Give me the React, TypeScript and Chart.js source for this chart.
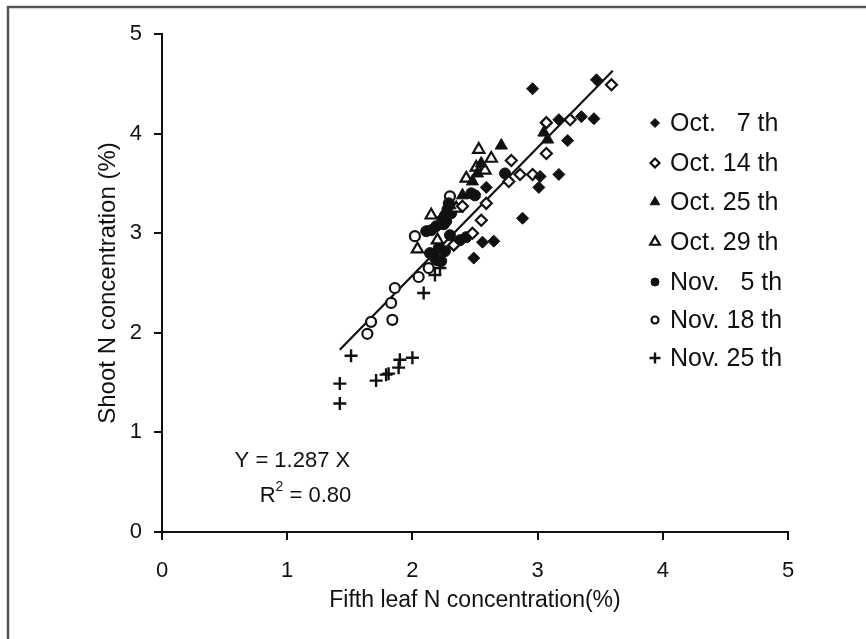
import React, { useEffect, useRef } from "react";
import { Chart, registerables } from "chart.js";
import { drawPoint } from "chart.js/helpers";

Chart.register(...registerables);

const seriesLabels = ["Oct.   7 th", "Oct. 14 th", "Oct. 25 th", "Oct. 29 th", "Nov.   5 th", "Nov. 18 th", "Nov. 25 th"];

const oct7X = [2.96, 3.47, 3.17, 3.35, 3.45, 3.24, 3.02, 3.17, 3.01, 2.59, 2.88, 2.56, 2.65, 2.49];
const oct7Y = [4.45, 4.54, 4.14, 4.17, 4.15, 3.93, 3.57, 3.59, 3.46, 3.46, 3.15, 2.91, 2.92, 2.75];

const oct14X = [3.59, 3.07, 3.26, 3.07, 2.79, 2.86, 2.96, 2.77, 2.59, 2.55, 2.48, 2.4, 2.33];
const oct14Y = [4.49, 4.11, 4.14, 3.8, 3.73, 3.59, 3.59, 3.52, 3.3, 3.13, 3.0, 3.27, 2.88];

const oct25X = [3.05, 3.08, 2.71, 2.55, 2.48, 2.4, 2.3, 2.27, 2.52, 2.25];
const oct25Y = [4.01, 3.94, 3.88, 3.7, 3.52, 3.38, 3.28, 3.2, 3.6, 3.14];

const oct29X = [2.53, 2.63, 2.51, 2.58, 2.43, 2.15, 2.04, 2.35, 2.2];
const oct29Y = [3.84, 3.75, 3.66, 3.63, 3.55, 3.18, 2.84, 3.25, 2.93];

const nov5X = [2.74, 2.5, 2.29, 2.31, 2.27, 2.25, 2.19, 2.11, 2.15, 2.38, 2.43, 2.3, 2.21, 2.18, 2.23, 2.14, 2.47, 2.28, 2.26, 2.32, 2.24, 2.26];
const nov5Y = [3.6, 3.38, 3.3, 3.2, 3.12, 3.09, 3.07, 3.02, 3.03, 2.93, 2.96, 2.98, 2.85, 2.75, 2.72, 2.8, 3.4, 3.24, 3.18, 3.26, 3.14, 2.82];

const nov18X = [2.3, 2.02, 2.05, 2.13, 1.86, 1.83, 1.84, 1.67, 1.64, 2.2];
const nov18Y = [3.37, 2.97, 2.56, 2.65, 2.45, 2.3, 2.13, 2.11, 1.99, 2.73];

const nov25X = [2.18, 2.09, 1.51, 1.42, 1.42, 1.71, 1.79, 1.81, 1.89, 1.9, 2.0, 2.22];
const nov25Y = [2.58, 2.4, 1.77, 1.49, 1.29, 1.52, 1.58, 1.59, 1.65, 1.73, 1.75, 2.65];

const fitX = [1.42, 3.6];
const fitY = [1.83, 4.63];

const xTicks = [0, 1, 2, 3, 4, 5];
const yTicks = [0, 1, 2, 3, 4, 5];

const INK = "#111111";
const FONT = "'Liberation Sans', Arial, sans-serif";

const pts = (xs: number[], ys: number[]) => xs.map((x, i) => ({ x, y: ys[i] }));

const styles = [
  { pointStyle: "rectRot", radius: 6, fill: INK, bw: 1, lr: 4.5 },
  { pointStyle: "rectRot", radius: 5.5, fill: "#ffffff", bw: 2.2, lr: 4.5 },
  { pointStyle: "triangle", radius: 7, fill: INK, bw: 1, lr: 5.5 },
  { pointStyle: "triangle", radius: 6.5, fill: "#ffffff", bw: 2.2, lr: 5.5 },
  { pointStyle: "circle", radius: 5.5, fill: INK, bw: 1, lr: 4 },
  { pointStyle: "circle", radius: 5, fill: "#ffffff", bw: 2.2, lr: 3.5 },
  { pointStyle: "cross", radius: 6.5, fill: INK, bw: 2.4, lr: 5.5 },
];

const seriesData = [
  pts(oct7X, oct7Y),
  pts(oct14X, oct14Y),
  pts(oct25X, oct25Y),
  pts(oct29X, oct29Y),
  pts(nov5X, nov5Y),
  pts(nov18X, nov18Y),
  pts(nov25X, nov25Y),
];

const decorPlugin = {
  id: "decor",
  afterDraw(chart: any) {
    const ctx = chart.ctx;
    ctx.save();
    // outer frame
    ctx.strokeStyle = "#555555";
    ctx.lineWidth = 2.5;
    ctx.beginPath();
    ctx.moveTo(8, 639);
    ctx.lineTo(8, 7);
    ctx.lineTo(866, 7);
    ctx.stroke();

    // legend
    const rowY = [123, 163, 202, 242, 282, 320, 358];
    ctx.font = `25px ${FONT}`;
    ctx.textBaseline = "middle";
    ctx.textAlign = "left";
    seriesLabels.forEach((lab, i) => {
      const s = styles[i];
      ctx.fillStyle = s.fill;
      ctx.strokeStyle = INK;
      ctx.lineWidth = s.bw;
      drawPoint(ctx, { pointStyle: s.pointStyle, radius: s.lr, rotation: 0, borderWidth: s.bw }, 655, rowY[i]);
      ctx.fillStyle = INK;
      ctx.fillText(lab, 670, rowY[i] + 1);
    });

    // equation
    const xs = chart.scales.x;
    const ys = chart.scales.y;
    ctx.font = `22px ${FONT}`;
    ctx.textAlign = "left";
    ctx.fillText("Y = 1.287 X", xs.getPixelForValue(0.58), ys.getPixelForValue(0.71));
    const rx = xs.getPixelForValue(0.78);
    const ry = ys.getPixelForValue(0.36);
    ctx.fillText("R", rx, ry);
    const rw = ctx.measureText("R").width;
    ctx.font = `14px ${FONT}`;
    ctx.fillText("2", rx + rw, ry - 9);
    const w2 = ctx.measureText("2").width;
    ctx.font = `22px ${FONT}`;
    ctx.fillText(" = 0.80", rx + rw + w2, ry);
    ctx.restore();
  },
};

export default function App() {
  const ref = useRef<HTMLCanvasElement | null>(null);
  useEffect(() => {
    document.body.style.margin = "0";
    const datasets: any[] = seriesData.map((d, i) => ({
      type: "scatter",
      label: seriesLabels[i],
      data: d,
      pointStyle: styles[i].pointStyle,
      pointRadius: styles[i].radius,
      pointBackgroundColor: styles[i].fill,
      pointBorderColor: INK,
      pointBorderWidth: styles[i].bw,
      showLine: false,
    }));
    datasets.push({
      type: "line",
      label: "fit",
      data: pts(fitX, fitY),
      borderColor: INK,
      borderWidth: 2.2,
      pointRadius: 0,
      fill: false,
    });
    const chart = new Chart(ref.current as HTMLCanvasElement, {
      type: "scatter",
      data: { datasets },
      options: {
        animation: false,
        responsive: false,
        maintainAspectRatio: false,
        layout: { padding: { top: 34, right: 78, left: 94, bottom: 25 } },
        plugins: { legend: { display: false }, tooltip: { enabled: false } },
        scales: {
          x: {
            type: "linear",
            min: 0,
            max: 5,
            afterBuildTicks: (s: any) => {
              s.ticks = xTicks.map((v) => ({ value: v }));
            },
            afterFit: (s: any) => {
              s.height = 82;
            },
            ticks: { color: INK, font: { family: FONT, size: 22 }, padding: 18 },
            grid: { display: true, drawOnChartArea: false, drawTicks: true, tickLength: 8, color: INK, lineWidth: 2 },
            border: { display: true, color: INK, width: 2 },
            title: {
              display: true,
              text: "Fifth leaf N concentration(%)",
              color: INK,
              font: { family: FONT, size: 23 },
              padding: { top: 4, bottom: 0 },
            },
          },
          y: {
            type: "linear",
            min: 0,
            max: 5,
            afterBuildTicks: (s: any) => {
              s.ticks = yTicks.map((v) => ({ value: v }));
            },
            afterFit: (s: any) => {
              s.width = 68;
            },
            ticks: { color: INK, font: { family: FONT, size: 22 }, padding: 12 },
            grid: { display: true, drawOnChartArea: false, drawTicks: true, tickLength: 8, color: INK, lineWidth: 2 },
            border: { display: true, color: INK, width: 2 },
            title: {
              display: true,
              text: "Shoot N concentration (%)",
              color: INK,
              font: { family: FONT, size: 24 },
              padding: { top: 0, bottom: 4 },
            },
          },
        },
      },
      plugins: [decorPlugin],
    } as any);
    return () => chart.destroy();
  }, []);
  return <canvas ref={ref} width={866} height={639} style={{ display: "block" }} />;
}
